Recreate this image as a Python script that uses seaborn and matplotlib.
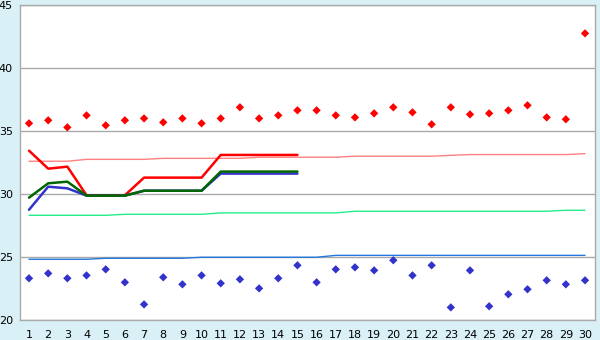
import matplotlib
matplotlib.use("Agg")
import matplotlib.pyplot as plt
import seaborn as sns
import pandas as pd

days = list(range(1, 31))
tick_labels = [str(d) for d in days]

upper_points = [35.61, 35.85, 35.29, 36.24, 35.45, 35.85, 36.0, 35.69, 36.0, 35.61,
                36.0, 36.88, 36.0, 36.24, 36.64, 36.64, 36.24, 36.08, 36.4, 36.88,
                36.48, 35.53, 36.88, 36.32, 36.4, 36.64, 37.04, 36.08, 35.93, 42.75]
lower_points = [23.31, 23.70, 23.31, 23.54, 24.02, 22.99, 21.24, 23.39, 22.83, 23.54,
                22.91, 23.23, 22.51, 23.31, 24.34, 22.99, 24.02, 24.18, 23.94, 24.74,
                23.54, 24.34, 21.0, 23.94, 21.09, 22.04, 22.44, 23.15, 22.83, 23.15]

pink_line = [32.6, 32.6, 32.6, 32.75, 32.75, 32.75, 32.75, 32.83, 32.83, 32.83,
             32.83, 32.83, 32.92, 32.92, 32.92, 32.92, 32.92, 33.0, 33.0, 33.0,
             33.0, 33.0, 33.07, 33.13, 33.13, 33.13, 33.13, 33.13, 33.13, 33.2]
green_line = [28.31, 28.31, 28.31, 28.31, 28.31, 28.39, 28.39, 28.39, 28.39, 28.39,
              28.5, 28.5, 28.5, 28.5, 28.5, 28.5, 28.5, 28.63, 28.63, 28.63,
              28.63, 28.63, 28.63, 28.63, 28.63, 28.63, 28.63, 28.63, 28.71, 28.71]
blue_line = [24.82, 24.82, 24.82, 24.82, 24.9, 24.9, 24.9, 24.9, 24.9, 24.98,
             24.98, 24.98, 24.98, 24.98, 24.98, 24.98, 25.13, 25.13, 25.13, 25.13,
             25.13, 25.13, 25.13, 25.13, 25.13, 25.13, 25.13, 25.13, 25.13, 25.13]

short_days = list(range(1, 16))
red_thick = [33.44, 32.01, 32.17, 29.9, 29.9, 29.9, 31.3, 31.3, 31.3, 31.3,
             33.1, 33.1, 33.1, 33.1, 33.1]
blue_thick = [28.75, 30.58, 30.45, 29.87, 29.87, 29.87, 30.26, 30.26, 30.26, 30.26,
              31.62, 31.62, 31.62, 31.62, 31.62]
green_thick = [29.71, 30.85, 30.98, 29.87, 29.87, 29.87, 30.26, 30.26, 30.26, 30.26,
               31.78, 31.78, 31.78, 31.78, 31.78]

sns.set_style("white")
plt.rcParams['font.family'] = ['DejaVu Sans']

bg = "#d9f0f6"
fig = plt.figure(figsize=(6, 3.4), dpi=100, facecolor=bg)
ax = fig.add_axes([20/600, 20/340, 575/600, 315/340])
ax.set_facecolor("white")

full = pd.DataFrame({"day": days, "pink": pink_line, "green": green_line, "blue": blue_line,
                     "up": upper_points, "low": lower_points})
short = pd.DataFrame({"day": short_days, "red": red_thick, "blue": blue_thick, "green": green_thick})

sns.lineplot(data=full, x="day", y="pink", ax=ax, color="#ff8080", linewidth=1.0)
sns.lineplot(data=full, x="day", y="green", ax=ax, color="#22ee88", linewidth=1.0)
sns.lineplot(data=full, x="day", y="blue", ax=ax, color="#2277dd", linewidth=1.0)

sns.lineplot(data=short, x="day", y="red", ax=ax, color="#ff0000", linewidth=1.8)
sns.lineplot(data=short, x="day", y="blue", ax=ax, color="#3333cc", linewidth=1.8)
sns.lineplot(data=short, x="day", y="green", ax=ax, color="#006600", linewidth=1.8)

sns.scatterplot(data=full, x="day", y="up", ax=ax, color="#ff0000", marker="D", s=18,
                edgecolor="none")
sns.scatterplot(data=full, x="day", y="low", ax=ax, color="#3333cc", marker="D", s=18,
                edgecolor="none")

ax.set_xlim(0.53, 30.52)
ax.set_ylim(20, 45)
ax.set_xticks(days)
ax.set_xticklabels(tick_labels)
ax.set_yticks([20, 25, 30, 35, 40, 45])
ax.set_xlabel("")
ax.set_ylabel("")
ax.yaxis.grid(True, color="#aaaaaa", linewidth=1.0)
ax.set_axisbelow(True)
for s in ax.spines.values():
    s.set_color("#aaaaaa")
    s.set_linewidth(1.0)
ax.tick_params(axis="both", which="both", direction="out", length=5, width=1,
               color="#333333", labelsize=8, pad=2, labelcolor="#000000")
ax.tick_params(axis="y", length=4, pad=1)

fig.savefig("out.png", dpi=100, facecolor=bg)
